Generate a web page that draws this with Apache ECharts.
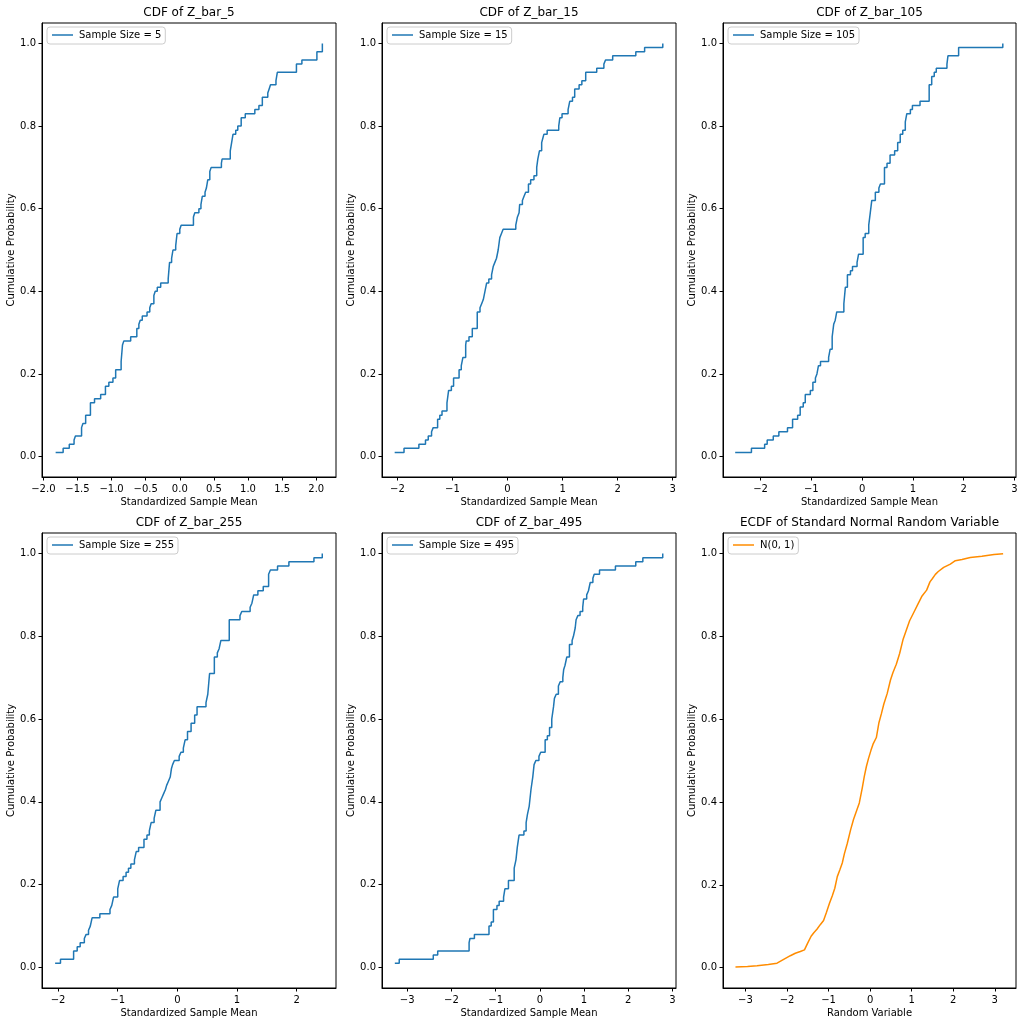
<!DOCTYPE html>
<html>
<head>
<meta charset="utf-8">
<title>CDF of standardized sample means</title>
<script src="https://cdn.jsdelivr.net/npm/echarts@6/dist/echarts.min.js"></script>
<style>
  html, body { margin: 0; padding: 0; background: #fff; }
  #main { width: 1024px; height: 1025px; }
</style>
</head>
<body>
<div id="main"></div>
<script>
// ECDF 数据（从图上读取的台阶位置）
var x5 = [-1.82, -1.71, -1.62, -1.55, -1.53, -1.44, -1.42, -1.38, -1.31, -1.25, -1.16, -1.09, -1.04, -0.98, -0.94,
  -0.86, -0.84, -0.82, -0.72, -0.63, -0.60, -0.58, -0.55, -0.48, -0.44, -0.42, -0.38, -0.36, -0.33, -0.28, -0.17,
  -0.15, -0.12, -0.10, -0.06, -0.04, 0.00, 0.02, 0.20, 0.22, 0.28, 0.31, 0.33, 0.37, 0.39, 0.41, 0.44, 0.46,
  0.61, 0.62, 0.74, 0.76, 0.78, 0.82, 0.85, 0.90, 0.96, 1.10, 1.16, 1.21, 1.29, 1.31, 1.33, 1.41, 1.43, 1.71,
  1.79, 2.01, 2.09];
var p5 = [0.01, 0.02, 0.03, 0.04, 0.05, 0.07, 0.08, 0.10, 0.13, 0.14, 0.15, 0.17, 0.18, 0.19, 0.21,
  0.23, 0.27, 0.28, 0.29, 0.31, 0.32, 0.33, 0.34, 0.35, 0.36, 0.37, 0.39, 0.40, 0.41, 0.42, 0.43,
  0.47, 0.48, 0.50, 0.51, 0.54, 0.55, 0.56, 0.58, 0.59, 0.60, 0.61, 0.63, 0.64, 0.65, 0.67, 0.69, 0.70,
  0.71, 0.72, 0.74, 0.76, 0.78, 0.79, 0.80, 0.82, 0.83, 0.84, 0.85, 0.87, 0.88, 0.89, 0.90, 0.91, 0.93, 0.95,
  0.96, 0.98, 1.00];

var x15 = [-2.05, -1.88, -1.61, -1.49, -1.44, -1.38, -1.35, -1.27, -1.23, -1.19, -1.10, -1.07, -1.02, -0.98,
  -0.88, -0.84, -0.81, -0.76, -0.75, -0.70, -0.64, -0.55, -0.50, -0.47, -0.44, -0.41, -0.38, -0.34, -0.29,
  -0.26, -0.23, -0.20, -0.17, -0.14, -0.11, -0.08, 0.15, 0.18, 0.21, 0.22, 0.27, 0.30, 0.33, 0.38, 0.42,
  0.48, 0.53, 0.55, 0.58, 0.62, 0.64, 0.66, 0.72, 0.93, 0.95, 0.99, 1.10, 1.13, 1.18, 1.22, 1.30, 1.35, 1.42,
  1.62, 1.75, 1.78, 1.91, 2.33, 2.49, 2.82];
var p15 = [0.01, 0.02, 0.03, 0.04, 0.05, 0.06, 0.07, 0.09, 0.10, 0.11, 0.13, 0.16, 0.17, 0.19,
  0.21, 0.22, 0.24, 0.27, 0.28, 0.29, 0.31, 0.35, 0.36, 0.37, 0.38, 0.40, 0.42, 0.43, 0.44,
  0.46, 0.47, 0.48, 0.50, 0.53, 0.54, 0.55, 0.56, 0.58, 0.59, 0.61, 0.62, 0.63, 0.64, 0.66, 0.67,
  0.68, 0.70, 0.72, 0.74, 0.76, 0.77, 0.78, 0.79, 0.80, 0.82, 0.83, 0.84, 0.86, 0.87, 0.89, 0.90, 0.91, 0.93,
  0.94, 0.95, 0.96, 0.97, 0.98, 0.99, 1.00];

var x105 = [-2.50, -2.18, -1.92, -1.87, -1.75, -1.64, -1.47, -1.37, -1.27, -1.22, -1.16, -1.12, -1.02, -0.97,
  -0.92, -0.89, -0.86, -0.82, -0.66, -0.63, -0.59, -0.56, -0.53, -0.50, -0.36, -0.33, -0.29, -0.23, -0.19,
  -0.10, -0.07, 0.02, 0.06, 0.13, 0.16, 0.19, 0.26, 0.33, 0.36, 0.44, 0.49, 0.55, 0.64, 0.70, 0.75, 0.80,
  0.85, 0.88, 0.95, 0.99, 1.14, 1.32, 1.37, 1.42, 1.46, 1.67, 1.69, 1.90, 2.77];
var p105 = [0.01, 0.02, 0.03, 0.04, 0.05, 0.06, 0.07, 0.09, 0.10, 0.12, 0.13, 0.15, 0.16, 0.18,
  0.19, 0.20, 0.22, 0.23, 0.24, 0.26, 0.29, 0.32, 0.33, 0.35, 0.37, 0.41, 0.44, 0.45, 0.46,
  0.47, 0.49, 0.53, 0.54, 0.56, 0.59, 0.62, 0.64, 0.65, 0.66, 0.70, 0.71, 0.73, 0.74, 0.76, 0.78, 0.79,
  0.81, 0.83, 0.84, 0.85, 0.86, 0.90, 0.92, 0.93, 0.94, 0.95, 0.97, 0.99, 1.00];

var x255 = [-2.05, -1.96, -1.74, -1.68, -1.63, -1.56, -1.53, -1.49, -1.46, -1.43, -1.30, -1.13, -1.10, -1.07,
  -1.00, -0.97, -0.91, -0.86, -0.82, -0.78, -0.72, -0.69, -0.65, -0.56, -0.51, -0.47, -0.44, -0.39, -0.36,
  -0.29, -0.26, -0.23, -0.20, -0.18, -0.15, -0.12, -0.10, -0.08, -0.05, 0.03, 0.06, 0.10, 0.13, 0.17, 0.23,
  0.29, 0.33, 0.48, 0.51, 0.54, 0.62, 0.67, 0.70, 0.73, 0.87, 1.05, 1.08, 1.22, 1.25, 1.28, 1.35, 1.44, 1.53,
  1.56, 1.68, 1.87, 2.29, 2.43];
var p255 = [0.01, 0.02, 0.04, 0.05, 0.06, 0.07, 0.08, 0.09, 0.10, 0.12, 0.13, 0.14, 0.15, 0.17,
  0.19, 0.21, 0.22, 0.23, 0.24, 0.25, 0.26, 0.28, 0.29, 0.31, 0.32, 0.33, 0.35, 0.36, 0.38,
  0.40, 0.41, 0.42, 0.43, 0.44, 0.45, 0.46, 0.48, 0.49, 0.50, 0.51, 0.52, 0.53, 0.55, 0.57, 0.59,
  0.61, 0.63, 0.64, 0.66, 0.71, 0.75, 0.76, 0.77, 0.79, 0.84, 0.85, 0.86, 0.87, 0.88, 0.90, 0.91, 0.92, 0.95,
  0.96, 0.97, 0.98, 0.99, 1.00];

var x495 = [-3.28, -3.18, -2.41, -2.31, -1.60, -1.58, -1.48, -1.15, -1.10, -1.05, -0.97, -0.92, -0.82, -0.79,
  -0.71, -0.58, -0.54, -0.51, -0.47, -0.36, -0.31, -0.28, -0.24, -0.20, -0.16, -0.13, -0.09, -0.02, 0.02,
  0.12, 0.17, 0.22, 0.27, 0.31, 0.33, 0.37, 0.42, 0.46, 0.52, 0.54, 0.57, 0.61, 0.67, 0.73, 0.76, 0.80,
  0.82, 0.86, 0.91, 0.97, 0.99, 1.06, 1.10, 1.14, 1.20, 1.23, 1.35, 1.71, 2.17, 2.33, 2.78];
var p495 = [0.01, 0.02, 0.03, 0.04, 0.06, 0.07, 0.08, 0.10, 0.11, 0.14, 0.15, 0.16, 0.17, 0.19,
  0.21, 0.24, 0.26, 0.29, 0.32, 0.33, 0.35, 0.37, 0.39, 0.43, 0.46, 0.49, 0.50, 0.51, 0.52,
  0.55, 0.56, 0.58, 0.60, 0.63, 0.65, 0.66, 0.68, 0.69, 0.70, 0.72, 0.73, 0.75, 0.78, 0.79, 0.80, 0.82,
  0.84, 0.85, 0.86, 0.87, 0.89, 0.90, 0.91, 0.93, 0.94, 0.95, 0.96, 0.97, 0.98, 0.99, 1.00];

var xNorm = [-3.24, -2.95, -2.72, -2.45, -2.24, -2.08, -1.92, -1.80, -1.68, -1.58, -1.50, -1.42, -1.35, -1.28,
  -1.20, -1.12, -1.05, -0.98, -0.91, -0.85, -0.79, -0.73, -0.67, -0.62, -0.55, -0.47, -0.40, -0.33, -0.26,
  -0.19, -0.14, -0.09, -0.04, 0.02, 0.07, 0.15, 0.21, 0.27, 0.33, 0.41, 0.49, 0.55, 0.63, 0.71, 0.79, 0.87,
  0.95, 1.05, 1.15, 1.25, 1.36, 1.44, 1.50, 1.57, 1.64, 1.77, 1.93, 2.05, 2.21, 2.41, 2.69, 2.98, 3.20];
var pNorm = [0.002, 0.003, 0.005, 0.008, 0.011, 0.020, 0.029, 0.035, 0.039, 0.043, 0.060, 0.076, 0.085, 0.093,
  0.104, 0.114, 0.134, 0.155, 0.174, 0.192, 0.220, 0.236, 0.253, 0.275, 0.300, 0.333, 0.358, 0.378, 0.398,
  0.434, 0.462, 0.486, 0.505, 0.525, 0.540, 0.556, 0.591, 0.613, 0.637, 0.662, 0.695, 0.713, 0.733, 0.759, 0.792,
  0.815, 0.838, 0.858, 0.878, 0.898, 0.912, 0.932, 0.940, 0.950, 0.957, 0.967, 0.975, 0.983, 0.986, 0.991, 0.994,
  0.998, 1.000];

// 刻度
var xTicksHalf = [-2.0, -1.5, -1.0, -0.5, 0.0, 0.5, 1.0, 1.5, 2.0];
var xTicks2to3 = [-2, -1, 0, 1, 2, 3];
var xTicks2to2 = [-2, -1, 0, 1, 2];
var xTicks3to3 = [-3, -2, -1, 0, 1, 2, 3];
var yTicks = [0.0, 0.2, 0.4, 0.6, 0.8, 1.0];

var titles = ['CDF of Z_bar_5', 'CDF of Z_bar_15', 'CDF of Z_bar_105',
  'CDF of Z_bar_255', 'CDF of Z_bar_495', 'ECDF of Standard Normal Random Variable'];
var legendNames = ['Sample Size = 5', 'Sample Size = 15', 'Sample Size = 105',
  'Sample Size = 255', 'Sample Size = 495', 'N(0, 1)'];

var font = 'DejaVu Sans';
var blue = '#1f77b4';
var orange = '#ff8c00';

var panels = [
  { xs: x5, ps: p5, ticks: xTicksHalf, dec: 1, xmin: -2.02, xmax: 2.29, ymin: -0.0495, ymax: 1.0495, step: true, color: blue, xname: 'Standardized Sample Mean' },
  { xs: x15, ps: p15, ticks: xTicks2to3, dec: 0, xmin: -2.28, xmax: 3.06, ymin: -0.0495, ymax: 1.0495, step: true, color: blue, xname: 'Standardized Sample Mean' },
  { xs: x105, ps: p105, ticks: xTicks2to3, dec: 0, xmin: -2.74, xmax: 3.03, ymin: -0.0495, ymax: 1.0495, step: true, color: blue, xname: 'Standardized Sample Mean' },
  { xs: x255, ps: p255, ticks: xTicks2to2, dec: 0, xmin: -2.27, xmax: 2.66, ymin: -0.0495, ymax: 1.0495, step: true, color: blue, xname: 'Standardized Sample Mean' },
  { xs: x495, ps: p495, ticks: xTicks3to3, dec: 0, xmin: -3.57, xmax: 3.08, ymin: -0.0495, ymax: 1.0495, step: true, color: blue, xname: 'Standardized Sample Mean' },
  { xs: xNorm, ps: pNorm, ticks: xTicks3to3, dec: 0, xmin: -3.54, xmax: 3.51, ymin: -0.049, ymax: 1.05, step: false, color: orange, xname: 'Random Variable' }
];

// 子图位置（像素）
var colLeft = [42, 382, 723];
var colWidth = [294, 294, 293];
var rowTop = [23, 533];
var rowHeight = [454, 455];

function fmt(dec) {
  return function (v) {
    return Number(v).toFixed(dec).replace('-', '\u2212');
  };
}

var myChart = echarts.init(document.getElementById('main'), null, { renderer: 'canvas' });

var option = {
  animation: false,
  backgroundColor: '#fff',
  title: [],
  legend: [],
  grid: [],
  xAxis: [],
  yAxis: [],
  series: []
};

panels.forEach(function (p, i) {
  var col = i % 3, row = Math.floor(i / 3);
  var left = colLeft[col], top = rowTop[row];
  var w = colWidth[col], h = rowHeight[row];

  option.title.push({
    text: titles[i],
    left: left + w / 2,
    top: top - 16,
    textAlign: 'center',
    padding: 0,
    textStyle: { fontFamily: font, fontSize: 12, fontWeight: 'normal', color: '#000' }
  });

  option.legend.push({
    data: [legendNames[i]],
    left: left + 5,
    top: top + 4,
    padding: [3, 4, 4, 5],
    icon: 'rect',
    itemWidth: 21,
    itemHeight: 1.5,
    borderColor: '#cccccc',
    borderWidth: 1,
    borderRadius: 3,
    backgroundColor: 'rgba(255,255,255,0.8)',
    selectedMode: false,
    textStyle: { fontFamily: font, fontSize: 10, color: '#000', padding: [0, 0, 0, 1] }
  });

  option.grid.push({
    left: left, top: top, width: w, height: h,
    show: true, borderColor: '#000', borderWidth: 1, backgroundColor: 'transparent'
  });

  option.xAxis.push({
    type: 'value',
    gridIndex: i,
    min: p.xmin,
    max: p.xmax,
    name: p.xname,
    nameLocation: 'middle',
    nameGap: 20,
    nameTextStyle: { fontFamily: font, fontSize: 10, color: '#000' },
    axisLine: { show: true, onZero: false, lineStyle: { color: '#000', width: 1 } },
    axisTick: { show: true, length: 3.5, customValues: p.ticks, lineStyle: { color: '#000' } },
    axisLabel: { customValues: p.ticks, margin: 7, formatter: fmt(p.dec), fontFamily: font, fontSize: 10, color: '#000' },
    splitLine: { show: false }
  });

  option.yAxis.push({
    type: 'value',
    gridIndex: i,
    min: p.ymin,
    max: p.ymax,
    name: 'Cumulative Probability',
    nameLocation: 'middle',
    nameGap: 26,
    nameTextStyle: { fontFamily: font, fontSize: 10, color: '#000' },
    axisLine: { show: true, onZero: false, lineStyle: { color: '#000', width: 1 } },
    axisTick: { show: true, length: 3.5, customValues: yTicks, lineStyle: { color: '#000' } },
    axisLabel: { customValues: yTicks, margin: 6, formatter: fmt(1), fontFamily: font, fontSize: 10, color: '#000' },
    splitLine: { show: false }
  });

  var data = p.xs.map(function (x, k) { return [x, p.ps[k]]; });
  option.series.push({
    name: legendNames[i],
    type: 'line',
    xAxisIndex: i,
    yAxisIndex: i,
    data: data,
    step: p.step ? 'end' : false,
    symbol: 'none',
    color: p.color,
    lineStyle: { color: p.color, width: 1.5 }
  });
});

// 为echarts对象加载数据
myChart.setOption(option);
</script>
</body>
</html>
